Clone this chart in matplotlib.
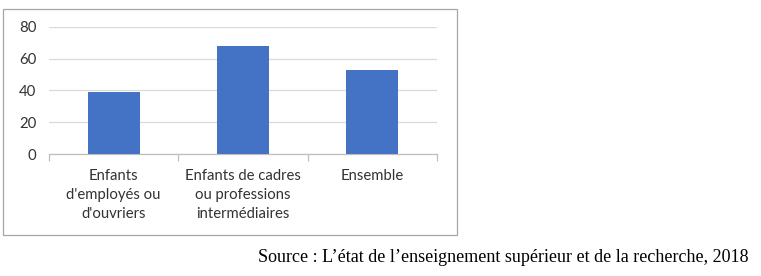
import matplotlib.pyplot as plt
from matplotlib.patches import Rectangle

categories = ["Enfants\nd'employés ou\nd'ouvriers",
              "Enfants de cadres\nou professions\nintermédiaires",
              "Ensemble"]
values = [39, 68, 53]
yticks = [0, 20, 40, 60, 80]

W, H = 761, 276
fig = plt.figure(figsize=(W / 100, H / 100), dpi=100)
fig.patch.set_facecolor('white')

# chart frame
fig.patches.append(Rectangle((3 / W, 1 - 235 / H), 454 / W, 226 / H,
                             transform=fig.transFigure, fill=False,
                             edgecolor='#A6A6A6', linewidth=0.9))

ax = fig.add_axes([49 / W, 1 - 154 / H, 388 / W, 127 / H])
x = list(range(len(categories)))
ax.bar(x, values, width=0.4, color='#4472C4', zorder=3)
ax.set_xlim(-0.5, len(categories) - 0.5)
ax.set_ylim(0, 80)
ax.set_yticks(yticks)
ax.yaxis.grid(True, color='#D9D9D9', linewidth=0.9, zorder=0)
for s in ['top', 'right', 'left']:
    ax.spines[s].set_visible(False)
ax.spines['bottom'].set_color('#BFBFBF')
ax.spines['bottom'].set_linewidth(0.9)

ax.set_xticks(x)
ax.set_xticklabels(categories, fontsize=10.7, family='Lato', color='#333333',
                   linespacing=1.45)
ax.set_xticks([-0.5, 0.5, 1.5, 2.5], minor=True)
ax.tick_params(axis='x', which='major', length=0, pad=11)
ax.tick_params(axis='x', which='minor', length=5, color='#BFBFBF', width=0.9)
ax.tick_params(axis='y', length=0, pad=9, labelsize=10.7, labelcolor='#333333')
for lab in ax.get_yticklabels():
    lab.set_family('Lato')

fig.text(748 / W, 1 - 262 / H,
         "Source : L\u2019état de l\u2019enseignement supérieur et de la recherche, 2018",
         ha='right', va='baseline', fontsize=13, family='Liberation Serif')

fig.savefig('out.png', dpi=100)
